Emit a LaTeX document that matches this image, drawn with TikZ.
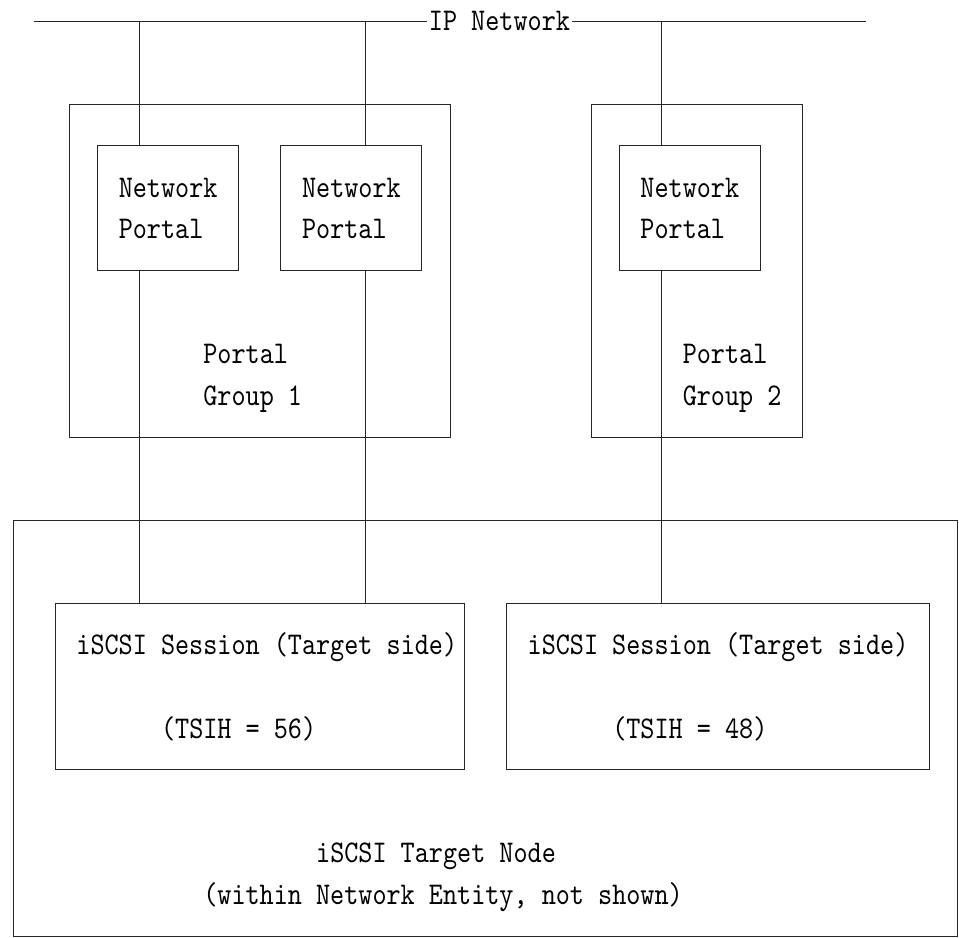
\documentclass[tikz,border=0pt]{standalone}
\usepackage{fontspec}
\newfontfamily\asciifont[FakeStretch=0.85]{lmmono10-regular.otf}
\newcommand{\asciitt}{\fontsize{15.8pt}{20.8pt}\asciifont}
\begin{document}
\begin{tikzpicture}[x=7.05pt, y=-20.8pt]
    \tikzset{
        box/.style 2 args={draw=black!85, line width=0.5pt, inner sep=0pt,
            minimum width=#1*7.05pt, minimum height=#2*20.8pt},
        txt/.style={font=\asciitt, inner sep=0pt, text depth=0pt, align=left},
        txtline/.style={txt, text height=9.8pt},
        wire/.style={draw=black!85, line width=0.5pt}
    }
    \useasboundingbox (-0.922,-0.505) rectangle (67.09,22.04);
    \node[txtline, inner xsep=1pt] (ipnet) at (34.5,0) {IP Network};
    \coordinate (ipl) at (1.5,0);
    \coordinate (ipr) at (60.5,0);
    \draw[wire] (ipl) -- (ipnet.west);
    \draw[wire] (ipnet.east) -- (ipr);
    \node[box={27}{8}] (pg1) at (17.5,6) {};
    \node[box={15}{8}] (pg2) at (48.5,6) {};
    \node[box={10}{3}, txt] (np1) at (11,4.5) {Network\\Portal};
    \node[box={10}{3}, txt] (np2) at (24,4.5) {Network\\Portal};
    \node[box={10}{3}, txt] (np3) at (48,4.5) {Network\\Portal};
    \node[txt] (pg1lbl) at (17,8.5) {Portal\\Group 1};
    \node[txt] (pg2lbl) at (51,8.5) {Portal\\Group 2};
    \node[box={67}{10}] (target) at (33.5,17) {};
    \node[box={29}{4}] (sess1) at (17.5,16) {};
    \node[box={30}{4}] (sess2) at (50,16) {};
    \node[txtline] (s1name) at (18,15) {iSCSI Session (Target side)};
    \node[txtline] (s1tsih) at (16,17) {(TSIH = 56)};
    \node[txtline] (s2name) at (50,15) {iSCSI Session (Target side)};
    \node[txtline] (s2tsih) at (48,17) {(TSIH = 48)};
    \node[txtline] (tname) at (30,20) {iSCSI Target Node};
    \node[txtline] (tnote) at (30.5,21) {(within Network Entity, not shown)};
    \coordinate (l1) at (9,0);
    \coordinate (l2) at (25,0);
    \coordinate (l3) at (46,0);
    \draw[wire] (l1) -- (l1 |- np1.north);
    \draw[wire] (l2) -- (l2 |- np2.north);
    \draw[wire] (l3) -- (l3 |- np3.north);
    \draw[wire] (l1 |- np1.south) -- (l1 |- sess1.north);
    \draw[wire] (l2 |- np2.south) -- (l2 |- sess1.north);
    \draw[wire] (l3 |- np3.south) -- (l3 |- sess2.north);
\end{tikzpicture}
\end{document}
